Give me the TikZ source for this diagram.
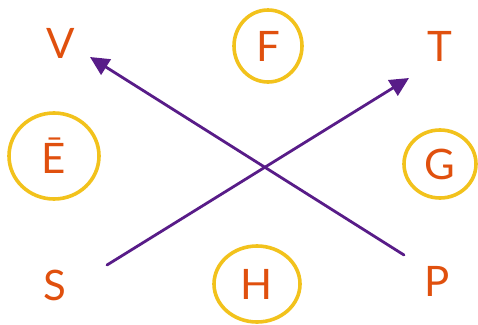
\documentclass[tikz,border=0pt]{standalone}
\usepackage{fontspec}
\setmainfont{Lato}
\usetikzlibrary{arrows.meta,shapes.geometric}
\definecolor{lettercol}{HTML}{E0500E}
\definecolor{ringcol}{HTML}{F2C21C}
\definecolor{arrowcol}{HTML}{581C88}
\begin{document}
\begin{tikzpicture}[x=1pt,y=-1pt,
  lab/.style={text=lettercol,font=\fontsize{42}{42}\selectfont,inner sep=0pt},
  ringed/.style={lab,ellipse,draw=ringcol,line width=3.6pt},
  link/.style={draw=arrowcol,line width=2.8pt,line cap=round,
    -{Triangle[length=19pt,width=18pt]}}]
\useasboundingbox (0,0) rectangle (478,324);
% plain letters
\node[lab] (V) at (61,43) {V};
\node[lab] (T) at (440,46) {T};
\node[lab] (S) at (55,285) {S};
\node[lab] (P) at (437,281) {P};
% ringed letters
\node[ringed,minimum width=68pt,minimum height=72pt] (F) at (268,46) {F};
\node[ringed,minimum width=90pt,minimum height=86pt] (E) at (54,156) {Ē};
\node[ringed,minimum width=72pt,minimum height=68pt] (G) at (440,164) {G};
\node[ringed,minimum width=86pt,minimum height=76pt] (H) at (257,284) {H};
% arrow ends
\coordinate (s0) at (107,265);
\coordinate (t0) at (409,78);
\coordinate (p0) at (404,255);
\coordinate (v0) at (90,57);
\draw[link] (s0) -- (t0);
\draw[link] (p0) -- (v0);
\end{tikzpicture}
\end{document}
